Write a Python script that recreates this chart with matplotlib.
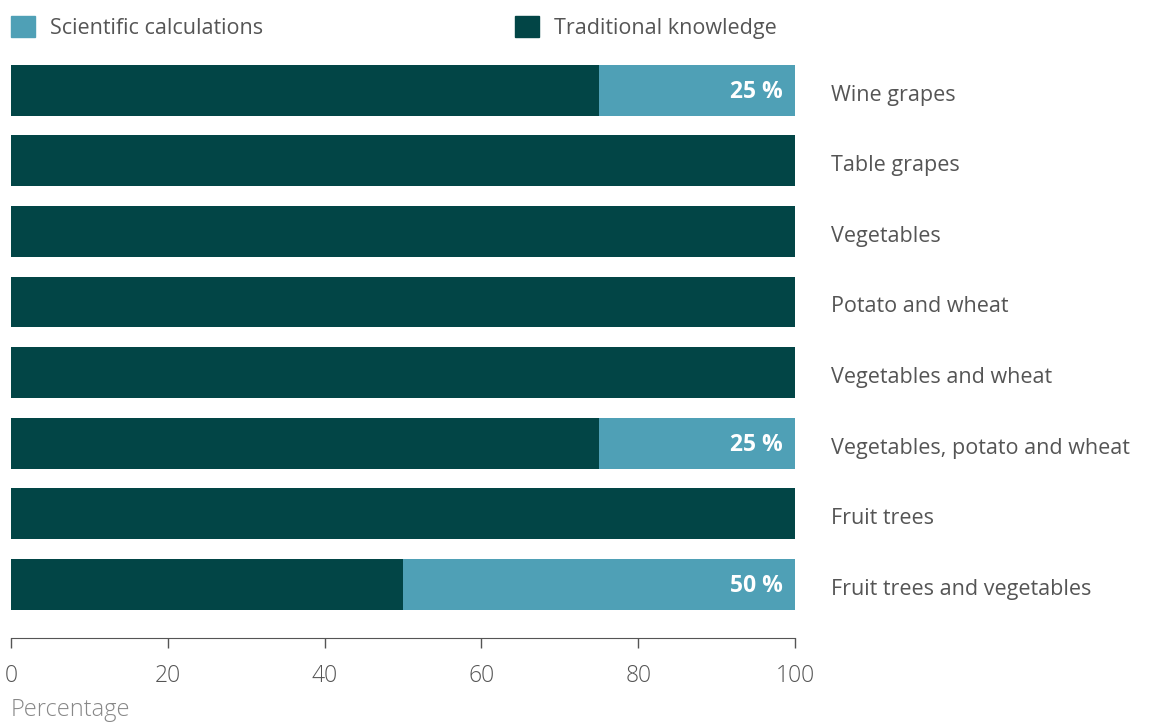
import matplotlib.pyplot as plt
from matplotlib.patches import Patch
import numpy as np

plt.rcParams["font.family"] = ["Open Sans", "DejaVu Sans"]

crops = ["Wine grapes", "Table grapes", "Vegetables", "Potato and wheat",
         "Vegetables and wheat", "Vegetables, potato and wheat",
         "Fruit trees", "Fruit trees and vegetables"]
traditional = [75, 100, 100, 100, 100, 75, 100, 50]
scientific = [25, 0, 0, 0, 0, 25, 0, 50]

c_trad = "#024546"
c_sci = "#4fa0b6"
grey = "#555555"

fig = plt.figure(figsize=(11.49, 7.22), dpi=100)
ax = fig.add_axes([11 / 1149, 1 - 638 / 722, 784 / 1149, 583 / 722])

y = np.arange(len(crops))
ax.barh(y, traditional, height=0.72, color=c_trad)
ax.barh(y, scientific, left=traditional, height=0.72, color=c_sci)

for i, s in enumerate(scientific):
    if s > 0:
        ax.text(traditional[i] + s - 1.5, i + 0.03, f"{s} %", ha="right", va="center",
                color="white", fontsize=16.5, fontweight="bold")
    # category names to the right of the bars
    ax.text(104.6, i + 0.07, crops[i], ha="left", va="center", color=grey, fontsize=15.5)

ax.set_xlim(0, 100)
ax.set_ylim(7.76, -0.5)
ax.set_yticks([])
ax.set_xticks([0, 20, 40, 60, 80, 100])
ax.tick_params(axis="x", colors=grey, labelsize=16.5, length=7, width=1, pad=12)
for lab in ax.get_xticklabels():
    lab.set_fontweight("light")
for side in ["top", "right", "left"]:
    ax.spines[side].set_visible(False)
ax.spines["bottom"].set_color(grey)
ax.set_xlabel("Percentage", color="#888888", fontsize=17, loc="left", labelpad=7)
ax.xaxis.label.set_fontweight("light")

handles = [Patch(color=c_sci, label="Scientific calculations"),
           Patch(color=c_trad, label="Traditional knowledge")]
fig.legend(handles=handles, loc="upper left", bbox_to_anchor=(-0.007, 1.004),
           ncol=2, frameon=False, handlelength=1.1, handleheight=1.1,
           handletextpad=0.7, columnspacing=11.7, fontsize=15.5,
           labelcolor=grey)

plt.savefig("out.png", dpi=100)
